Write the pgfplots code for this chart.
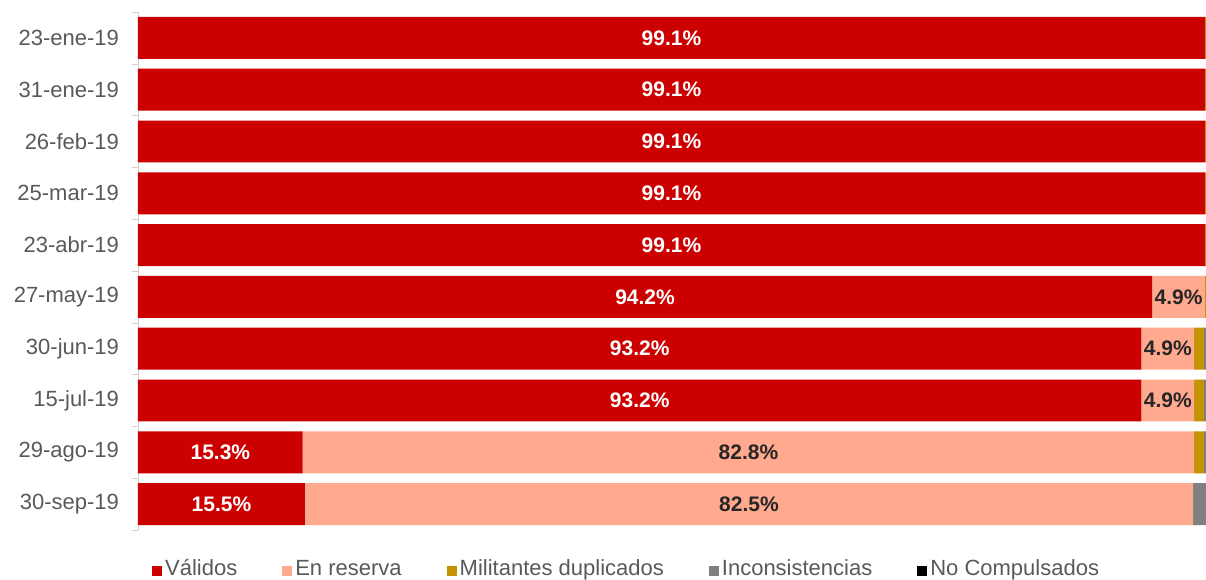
\documentclass[border=0pt]{standalone}
\usepackage{fontspec}
\setmainfont{Liberation Sans}
\usepackage{pgfplots}
\pgfplotsset{compat=1.18}
\usepackage{pgfplotstable}
\definecolor{cval}{HTML}{CC0000}
\definecolor{cres}{HTML}{FFA98F}
\definecolor{cdup}{HTML}{C39300}
\definecolor{cinc}{HTML}{808080}
\definecolor{cnoc}{HTML}{000000}
\definecolor{tgray}{HTML}{595959}
\definecolor{agray}{HTML}{D0D0D0}

\pgfplotstableread{
idx val res dup inc noc
0 99.1 0 0.9 0 0
1 99.1 0 0.9 0 0
2 99.1 0 0.9 0 0
3 99.1 0 0.9 0 0
4 99.1 0 0.9 0 0
5 94.2 4.9 0.9 0 0
6 93.2 4.9 0.9 1.0 0
7 93.2 4.9 0.9 1.0 0
8 15.3 82.8 0.9 1.0 0
9 15.5 82.5 0 2.0 0
}\datatable

\pgfplotstableread{
x y v
49.55 0 99.1
49.55 1 99.1
49.55 2 99.1
49.55 3 99.1
49.55 4 99.1
47.1 5 94.2
46.6 6 93.2
46.6 7 93.2
7.65 8 15.3
7.75 9 15.5
}\whitelabels

\pgfplotstableread{
x y v
96.65 5 4.9
95.65 6 4.9
95.65 7 4.9
56.7 8 82.8
56.75 9 82.5
}\darklabels

\begin{document}
\begin{tikzpicture}
\path[use as bounding box] (0,0) rectangle (603pt,289.5pt);
\begin{axis}[
  at={(69pt,24.5pt)}, anchor=south west,
  scale only axis, width=534pt, height=259pt,
  xbar stacked, bar width=0.81,
  xmin=0, xmax=99.2, ymin=-0.5, ymax=9.5,
  y dir=reverse,
  axis x line=none,
  axis y line=left,
  y axis line style={draw=agray, -},
  ytick={0,...,9},
  yticklabels={23-ene-19,31-ene-19,26-feb-19,25-mar-19,23-abr-19,27-may-19,30-jun-19,15-jul-19,29-ago-19,30-sep-19},
  yticklabel style={font=\fontsize{11}{13}\selectfont, text=tgray, xshift=-6pt},
  major tick length=0pt,
  minor ytick={-0.5,0.5,...,9.5},
  minor tick length=3pt,
  tick align=outside,
  tick style={draw=agray},
  legend columns=-1,
  legend style={draw=none, fill=none, at={(0.458,-0.079)}, anchor=center,
    font=\fontsize{11}{13}\selectfont, text=tgray,
    nodes={inner xsep=1.5pt, text height=0.72em, text depth=0.22em},
    /tikz/every even column/.append style={column sep=21pt}},
  legend image code/.code={\fill[#1] (0pt,-2.5pt) rectangle (5pt,2.5pt);},
]
\addplot[fill=cval, draw=none] table[x=val, y=idx] {\datatable};
\addplot[fill=cres, draw=none] table[x=res, y=idx] {\datatable};
\addplot[fill=cdup, draw=none] table[x=dup, y=idx] {\datatable};
\addplot[fill=cinc, draw=none] table[x=inc, y=idx] {\datatable};
\addplot[fill=cnoc, draw=none] table[x=noc, y=idx] {\datatable};
\legend{V\'alidos, En reserva, Militantes duplicados, Inconsistencias, No Compulsados}
\end{axis}
\begin{axis}[
  at={(69pt,24.5pt)}, anchor=south west,
  scale only axis, width=534pt, height=259pt,
  xmin=0, xmax=99.2, ymin=-0.5, ymax=9.5,
  y dir=reverse, hide axis,
  /pgf/number format/assume math mode=true,
  nodes near coords={\pgfmathprintnumber[fixed,precision=1,fixed zerofill]{\pgfplotspointmeta}\%},
  nodes near coords style={anchor=center, font=\fontsize{10.5}{12}\selectfont\bfseries},
  point meta=explicit,
]
\addplot[draw=none, mark=none, nodes near coords style={text=white}] table[x=x, y=y, meta=v] {\whitelabels};
\addplot[draw=none, mark=none, nodes near coords style={text=black!85}] table[x=x, y=y, meta=v] {\darklabels};
\end{axis}
\end{tikzpicture}
\end{document}
